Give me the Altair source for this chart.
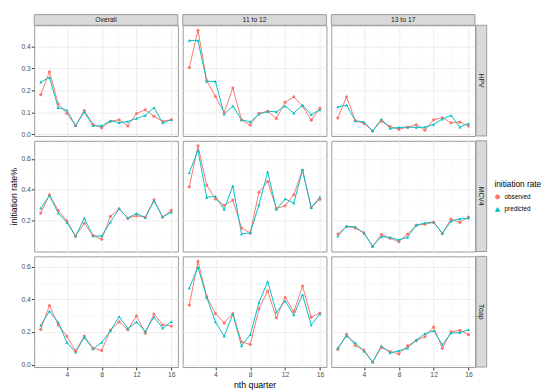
import altair as alt
import pandas as pd

quarters = list(range(1, 17))
vaccines = ["HPV", "MCV4", "Tdap"]
groups = ["Overall", "11 to 12", "13 to 17"]
series = ["observed", "predicted"]

hpv_overall_obs = [0.181, 0.285, 0.139, 0.096, 0.040, 0.109, 0.046, 0.030, 0.060, 0.067, 0.039, 0.095, 0.112, 0.083, 0.060, 0.067]
hpv_overall_pred = [0.238, 0.259, 0.122, 0.110, 0.040, 0.102, 0.040, 0.039, 0.062, 0.054, 0.059, 0.073, 0.087, 0.122, 0.052, 0.067]
hpv_1112_obs = [0.304, 0.473, 0.245, 0.173, 0.099, 0.211, 0.066, 0.043, 0.096, 0.105, 0.073, 0.146, 0.171, 0.129, 0.065, 0.119]
hpv_1112_pred = [0.427, 0.427, 0.241, 0.241, 0.092, 0.129, 0.067, 0.057, 0.092, 0.105, 0.103, 0.129, 0.097, 0.133, 0.090, 0.112]
hpv_1317_obs = [0.075, 0.171, 0.063, 0.050, 0.017, 0.060, 0.036, 0.024, 0.033, 0.044, 0.019, 0.067, 0.076, 0.053, 0.057, 0.039]
hpv_1317_pred = [0.126, 0.133, 0.062, 0.057, 0.016, 0.070, 0.027, 0.032, 0.033, 0.032, 0.033, 0.046, 0.070, 0.087, 0.033, 0.050]

mcv4_overall_obs = [0.249, 0.368, 0.267, 0.199, 0.101, 0.183, 0.105, 0.080, 0.228, 0.277, 0.216, 0.232, 0.222, 0.335, 0.224, 0.267]
mcv4_overall_pred = [0.281, 0.362, 0.249, 0.189, 0.099, 0.216, 0.101, 0.101, 0.191, 0.277, 0.218, 0.247, 0.220, 0.327, 0.224, 0.255]
mcv4_1112_obs = [0.419, 0.684, 0.430, 0.341, 0.300, 0.333, 0.152, 0.121, 0.384, 0.454, 0.279, 0.296, 0.368, 0.528, 0.284, 0.339]
mcv4_1112_pred = [0.510, 0.655, 0.351, 0.358, 0.273, 0.425, 0.115, 0.121, 0.302, 0.516, 0.273, 0.341, 0.314, 0.528, 0.284, 0.353]
mcv4_1317_obs = [0.113, 0.162, 0.152, 0.121, 0.033, 0.111, 0.086, 0.064, 0.113, 0.171, 0.177, 0.189, 0.119, 0.210, 0.189, 0.224]
mcv4_1317_pred = [0.099, 0.164, 0.160, 0.119, 0.035, 0.097, 0.092, 0.076, 0.092, 0.171, 0.185, 0.191, 0.117, 0.197, 0.212, 0.216]

tdap_overall_obs = [0.216, 0.363, 0.243, 0.175, 0.083, 0.175, 0.101, 0.087, 0.212, 0.262, 0.214, 0.299, 0.192, 0.311, 0.245, 0.237]
tdap_overall_pred = [0.241, 0.328, 0.260, 0.136, 0.076, 0.167, 0.097, 0.136, 0.206, 0.295, 0.221, 0.262, 0.204, 0.293, 0.223, 0.264]
tdap_1112_obs = [0.365, 0.633, 0.417, 0.314, 0.256, 0.314, 0.140, 0.124, 0.342, 0.452, 0.287, 0.412, 0.324, 0.482, 0.291, 0.317]
tdap_1112_pred = [0.470, 0.598, 0.412, 0.262, 0.175, 0.309, 0.115, 0.184, 0.381, 0.509, 0.322, 0.390, 0.305, 0.429, 0.243, 0.311]
tdap_1317_obs = [0.093, 0.186, 0.117, 0.089, 0.016, 0.105, 0.080, 0.066, 0.115, 0.148, 0.171, 0.231, 0.101, 0.202, 0.210, 0.184]
tdap_1317_pred = [0.103, 0.175, 0.134, 0.082, 0.016, 0.115, 0.072, 0.085, 0.101, 0.150, 0.190, 0.208, 0.122, 0.194, 0.196, 0.214]

y_major = {"HPV": [0.0, 0.1, 0.2, 0.3, 0.4], "MCV4": [0.0, 0.2, 0.4, 0.6], "Tdap": [0.0, 0.2, 0.4, 0.6]}
y_minor = {"HPV": [0.05, 0.15, 0.25, 0.35, 0.45], "MCV4": [0.1, 0.3, 0.5, 0.7], "Tdap": [0.1, 0.3, 0.5]}
x_major = [4, 8, 12, 16]
x_minor = [2, 6, 10, 14]

table = {
    ("HPV", "Overall"): (hpv_overall_obs, hpv_overall_pred),
    ("HPV", "11 to 12"): (hpv_1112_obs, hpv_1112_pred),
    ("HPV", "13 to 17"): (hpv_1317_obs, hpv_1317_pred),
    ("MCV4", "Overall"): (mcv4_overall_obs, mcv4_overall_pred),
    ("MCV4", "11 to 12"): (mcv4_1112_obs, mcv4_1112_pred),
    ("MCV4", "13 to 17"): (mcv4_1317_obs, mcv4_1317_pred),
    ("Tdap", "Overall"): (tdap_overall_obs, tdap_overall_pred),
    ("Tdap", "11 to 12"): (tdap_1112_obs, tdap_1112_pred),
    ("Tdap", "13 to 17"): (tdap_1317_obs, tdap_1317_pred),
}

rows = []
for (vax, grp), (obs, pred) in table.items():
    for s, vals in zip(series, (obs, pred)):
        for q, v in zip(quarters, vals):
            rows.append({"vaccine": vax, "group": grp, "series": s, "quarter": q, "rate": v})
df = pd.DataFrame(rows)

W, H, STRIP = 148, 114, 11
FONT = "Liberation Sans"
GRID_MAJOR = "#EBEBEB"
GRID_MINOR = "#F5F5F5"

color_scale = alt.Scale(domain=series, range=["#F8766D", "#00BFC4"])
shape_scale = alt.Scale(domain=series, range=["circle", "triangle-up"])
legend = alt.Legend(title="initiation rate", orient="none", legendX=3 * W + 2 * 5 + STRIP + 9, legendY=160)


def panel(vax, grp, ri, ci):
    sub = df[(df.vaccine == vax) & (df.group == grp)]
    vals = df[df.vaccine == vax]["rate"]
    lo, hi = vals.min(), vals.max()
    pad = 0.05 * (hi - lo)
    ysc = alt.Scale(domain=[lo - pad, hi + pad], nice=False, zero=False)
    xsc = alt.Scale(domain=[0.25, 16.75], nice=False, zero=False)
    bottom = ri == 2
    left = ci == 0

    xa_major = alt.Axis(values=x_major, orient="bottom", labels=bottom, ticks=bottom, format="d",
                        title="nth quarter" if (bottom and ci == 1) else None,
                        grid=True, gridColor=GRID_MAJOR, gridWidth=1, domain=False)
    ya_major = alt.Axis(values=y_major[vax], orient="left", labels=left, ticks=left, format=".1f",
                        title="initiation rate%" if (left and ri == 1) else None,
                        grid=True, gridColor=GRID_MAJOR, gridWidth=1, domain=False)
    xa_minor = alt.Axis(values=x_minor, orient="top", labels=False, ticks=False, domain=False,
                        title=None, grid=True, gridColor=GRID_MINOR, gridWidth=0.6)
    ya_minor = alt.Axis(values=y_minor[vax], orient="right", labels=False, ticks=False, domain=False,
                        title=None, grid=True, gridColor=GRID_MINOR, gridWidth=0.6)

    base = alt.Chart(sub)
    lines = base.mark_line(strokeWidth=1).encode(
        x=alt.X("quarter:Q", scale=xsc, axis=xa_minor),
        y=alt.Y("rate:Q", scale=ysc, axis=ya_minor),
        color=alt.Color("series:N", scale=color_scale, legend=legend),
    )
    points = base.mark_point(filled=True, size=10, opacity=1).encode(
        x=alt.X("quarter:Q", scale=xsc, axis=xa_major),
        y=alt.Y("rate:Q", scale=ysc, axis=ya_major),
        color=alt.Color("series:N", scale=color_scale, legend=legend),
        shape=alt.Shape("series:N", scale=shape_scale, legend=legend),
    )
    layers = [lines, points]
    if ri == 0:
        sd = pd.DataFrame({"label": [grp]})
        layers.append(alt.Chart(sd).mark_rect(fill="#D9D9D9", stroke="#999999", strokeWidth=1).encode(
            x=alt.value(0), x2=alt.value(W), y=alt.value(-STRIP), y2=alt.value(0)))
        layers.append(alt.Chart(sd).mark_text(font=FONT, fontSize=7, color="#1A1A1A").encode(
            x=alt.value(W / 2), y=alt.value(-STRIP / 2), text="label:N"))
    if ci == 2:
        sd = pd.DataFrame({"label": [vax]})
        layers.append(alt.Chart(sd).mark_rect(fill="#D9D9D9", stroke="#999999", strokeWidth=1).encode(
            x=alt.value(W + 1), x2=alt.value(W + 1 + STRIP), y=alt.value(0), y2=alt.value(H)))
        layers.append(alt.Chart(sd).mark_text(font=FONT, fontSize=7, color="#1A1A1A", angle=90).encode(
            x=alt.value(W + 1 + STRIP / 2), y=alt.value(H / 2), text="label:N"))
    return alt.layer(*layers).resolve_axis(x="independent", y="independent").properties(width=W, height=H)


panels = [panel(v, g, ri, ci) for ri, v in enumerate(vaccines) for ci, g in enumerate(groups)]

chart = alt.concat(*panels, columns=3, spacing=5, bounds="flush").properties(
    padding={"left": 0, "top": 0, "right": 0, "bottom": 0}
).configure_view(
    stroke="#999999", strokeWidth=1
).configure_axis(
    labelFont=FONT, labelFontSize=7, labelColor="#4D4D4D", tickColor="#333333", tickSize=3,
    labelPadding=1, titleFont=FONT, titleFontSize=9, titleFontWeight="normal", titleColor="#000000",
    titlePadding=3
).configure_legend(
    titleFont=FONT, titleFontSize=8.5, titleFontWeight="normal", titleColor="#000000",
    labelFont=FONT, labelFontSize=6.5, labelColor="#000000", symbolSize=18, rowPadding=4,
    symbolStrokeWidth=1
)

chart.save("out.html", embed_options={"renderer": "svg", "actions": False})
